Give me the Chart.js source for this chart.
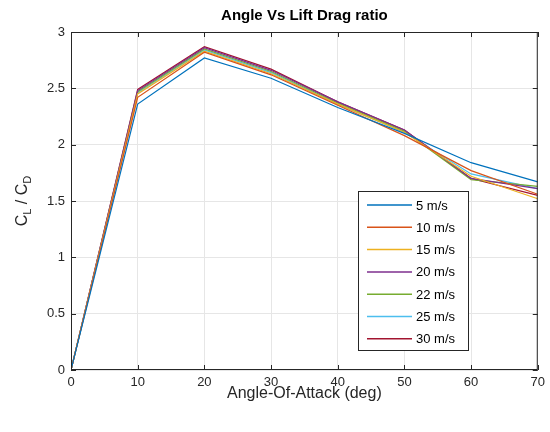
<!DOCTYPE html>
<html>
<head>
<meta charset="utf-8">
<script src="https://cdn.jsdelivr.net/npm/chart.js@4/dist/chart.umd.min.js"></script>
<style>
  html, body { margin: 0; padding: 0; background: #fff; }
  #wrap { width: 550px; height: 432px; }
</style>
</head>
<body>
<div id="wrap"><canvas id="liftChart"></canvas></div>
<script>
const angles = [0, 10, 20, 30, 40, 50, 60, 70];
const speedLabels = ["5 m/s", "10 m/s", "15 m/s", "20 m/s", "22 m/s", "25 m/s", "30 m/s"];
const ratio5  = [0, 2.36, 2.77, 2.59, 2.33, 2.10, 1.84, 1.67];
const ratio10 = [0, 2.42, 2.82, 2.62, 2.35, 2.08, 1.77, 1.56];
const ratio15 = [0, 2.45, 2.83, 2.63, 2.36, 2.11, 1.72, 1.52];
const ratio20 = [0, 2.48, 2.86, 2.66, 2.38, 2.13, 1.70, 1.61];
const ratio22 = [0, 2.47, 2.85, 2.65, 2.37, 2.12, 1.69, 1.63];
const ratio25 = [0, 2.46, 2.84, 2.64, 2.36, 2.11, 1.74, 1.61];
const ratio30 = [0, 2.49, 2.87, 2.67, 2.38, 2.13, 1.70, 1.55];
const yTicks = [0, 0.5, 1, 1.5, 2, 2.5, 3];

const colors = ["#0072BD", "#D95319", "#EDB120", "#7E2F8E", "#77AC30", "#4DBEEE", "#A2142F"];
const series = [ratio5, ratio10, ratio15, ratio20, ratio22, ratio25, ratio30];

const FONT = "'Liberation Sans', Arial, sans-serif";
const INK = "#262626";

const datasets = series.map((vals, i) => ({
  label: speedLabels[i],
  data: angles.map((a, j) => ({ x: a, y: vals[j] })),
  borderColor: colors[i],
  backgroundColor: colors[i],
  borderWidth: 1.2,
  pointRadius: 0,
  fill: false,
  tension: 0,
}));

// box, inward ticks, titles and the legend inside the axes
const matlabLook = {
  id: "matlabLook",
  afterDraw(chart) {
    const c = chart.ctx;
    const a = chart.chartArea;
    const xs = chart.scales.x, ys = chart.scales.y;
    c.save();
    c.strokeStyle = INK;
    c.lineWidth = 1;
    c.strokeRect(a.left + 0.5, a.top + 0.5, a.right - a.left - 1, a.bottom - a.top - 1);
    c.beginPath();
    angles.forEach(v => {
      const px = Math.round(xs.getPixelForValue(v)) + 0.5;
      c.moveTo(px, a.bottom); c.lineTo(px, a.bottom - 5);
      c.moveTo(px, a.top); c.lineTo(px, a.top + 5);
    });
    yTicks.forEach(v => {
      const py = Math.round(ys.getPixelForValue(v)) + 0.5;
      c.moveTo(a.left, py); c.lineTo(a.left + 5, py);
      c.moveTo(a.right, py); c.lineTo(a.right - 5, py);
    });
    c.stroke();

    // title
    c.fillStyle = "#000";
    c.font = "bold 15px " + FONT;
    c.textAlign = "center";
    c.textBaseline = "alphabetic";
    c.fillText("Angle Vs Lift Drag ratio", (a.left + a.right) / 2, 20);

    // x title
    c.fillStyle = INK;
    c.font = "16px " + FONT;
    c.fillText("Angle-Of-Attack (deg)", (a.left + a.right) / 2, 398);

    // y title with subscripts
    c.save();
    c.translate(27, (a.top + a.bottom) / 2);
    c.rotate(-Math.PI / 2);
    const parts = [["C", 0, 16], ["L", 4, 11], [" / C", 0, 16], ["D", 4, 11]];
    let w = 0;
    parts.forEach(p => { c.font = p[2] + "px " + FONT; w += c.measureText(p[0]).width; });
    let x = -w / 2;
    c.textAlign = "left";
    parts.forEach(p => {
      c.font = p[2] + "px " + FONT;
      c.fillText(p[0], x, p[1]);
      x += c.measureText(p[0]).width;
    });
    c.restore();

    // legend
    const lx = 358, ly = 191, lw = 110, lh = 159;
    c.fillStyle = "#fff";
    c.fillRect(lx, ly, lw, lh);
    c.strokeStyle = INK;
    c.lineWidth = 1;
    c.strokeRect(lx + 0.5, ly + 0.5, lw, lh);
    c.font = "13px " + FONT;
    c.textAlign = "left";
    c.textBaseline = "middle";
    chart.data.datasets.forEach((ds, i) => {
      const yy = ly + 14 + i * 22.3;
      c.strokeStyle = ds.borderColor;
      c.lineWidth = 1.5;
      c.beginPath();
      c.moveTo(lx + 9, yy);
      c.lineTo(lx + 54, yy);
      c.stroke();
      c.fillStyle = "#000";
      c.fillText(ds.label, lx + 58, yy + 1);
    });
    c.restore();
  }
};

new Chart(document.getElementById("liftChart"), {
  type: "line",
  data: { datasets: datasets },
  options: {
    responsive: true,
    maintainAspectRatio: false,
    animation: false,
    layout: { padding: { top: 32, right: 10, left: 0, bottom: 0 } },
    plugins: {
      legend: { display: false },
      title: { display: false },
      tooltip: { enabled: false },
    },
    scales: {
      x: {
        type: "linear",
        min: 0,
        max: 70,
        afterFit: s => { s.height = 62; },
        afterBuildTicks: s => { s.ticks = angles.map(v => ({ value: v })); },
        grid: { color: "#e6e6e6", drawTicks: false },
        border: { display: false },
        ticks: {
          color: INK,
          padding: 5,
          font: { family: FONT, size: 13 },
          callback: v => String(v),
        },
      },
      y: {
        type: "linear",
        min: 0,
        max: 3,
        afterFit: s => { s.width = 71; },
        afterBuildTicks: s => { s.ticks = yTicks.map(v => ({ value: v })); },
        grid: { color: "#e6e6e6", drawTicks: false },
        border: { display: false },
        ticks: {
          color: INK,
          padding: 6,
          font: { family: FONT, size: 13 },
          callback: v => String(v),
        },
      },
    },
  },
  plugins: [matlabLook],
});
</script>
</body>
</html>
